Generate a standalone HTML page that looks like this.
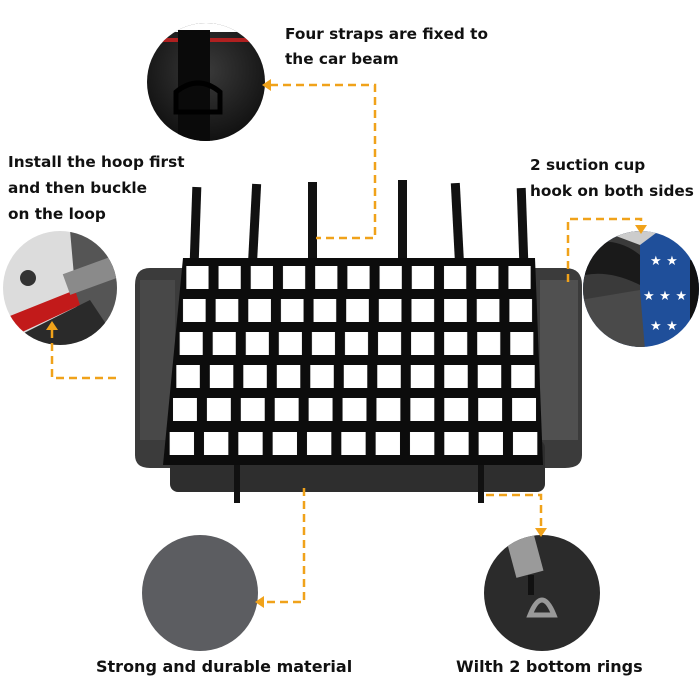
<!DOCTYPE html>
<html><head><meta charset="utf-8"><style>
html,body{margin:0;padding:0;background:#fff;}
svg{display:block}
text{font-family:"DejaVu Sans","Liberation Sans",sans-serif;font-weight:bold;font-size:15.3px;fill:#111}
</style></head><body>
<svg width="700" height="700" viewBox="0 0 700 700" xmlns="http://www.w3.org/2000/svg">
<defs>
<radialGradient id="g1" cx="50%" cy="40%" r="60%"><stop offset="0" stop-color="#3a3a3a"/><stop offset="1" stop-color="#111"/></radialGradient>
<pattern id="p0" x="181.33" y="0" width="32.21" height="700" patternUnits="userSpaceOnUse"><rect x="5" y="0" width="22.21" height="700" fill="#fff"/></pattern>
<pattern id="p1" x="178" y="0" width="32.64" height="700" patternUnits="userSpaceOnUse"><rect x="5" y="0" width="22.64" height="700" fill="#fff"/></pattern>
<pattern id="p2" x="174.67" y="0" width="33.06" height="700" patternUnits="userSpaceOnUse"><rect x="5" y="0" width="23.06" height="700" fill="#fff"/></pattern>
<pattern id="p3" x="171.33" y="0" width="33.49" height="700" patternUnits="userSpaceOnUse"><rect x="5" y="0" width="23.49" height="700" fill="#fff"/></pattern>
<pattern id="p4" x="168" y="0" width="33.91" height="700" patternUnits="userSpaceOnUse"><rect x="5" y="0" width="23.91" height="700" fill="#fff"/></pattern>
<pattern id="p5" x="164.67" y="0" width="34.33" height="700" patternUnits="userSpaceOnUse"><rect x="5" y="0" width="24.33" height="700" fill="#fff"/></pattern>
<clipPath id="ct"><circle cx="206" cy="82" r="59"/></clipPath>
<clipPath id="cl"><circle cx="60" cy="288" r="57"/></clipPath>
<clipPath id="cr"><circle cx="641" cy="289" r="58"/></clipPath>
<clipPath id="cb"><circle cx="542" cy="593" r="58"/></clipPath>
</defs>
<!-- top circle -->
<circle cx="206" cy="82" r="59" fill="url(#g1)"/>
<g clip-path="url(#ct)">
<rect x="140" y="20" width="140" height="12" fill="#fff"/>
<rect x="150" y="38" width="100" height="4" fill="#b02020"/>
<rect x="178" y="30" width="32" height="120" fill="#0a0a0a"/>
<path d="M176 92 q22 -18 44 0 l0 20 l-44 0 z" fill="none" stroke="#000" stroke-width="5"/>
</g>
<!-- left circle -->
<circle cx="60" cy="288" r="57" fill="#dcdcdc"/>
<g clip-path="url(#cl)">
<path d="M70 230 L120 240 L120 345 L80 345Z" fill="#555"/>
<path d="M0 320 L75 290 L80 305 L5 340 Z" fill="#c21a1a"/>
<path d="M0 345 L90 300 L120 345Z" fill="#2a2a2a"/>
<circle cx="28" cy="278" r="8" fill="#333"/>
<rect x="65" y="265" width="50" height="22" fill="#8a8a8a" transform="rotate(-20 90 276)"/>
</g>
<!-- right circle -->
<circle cx="641" cy="289" r="58" fill="#1f4f9a"/>
<g clip-path="url(#cr)">
<path d="M580 230 L640 230 L640 300 L580 300Z" fill="#3a3a3a"/>
<path d="M580 300 L640 290 L645 350 L580 350Z" fill="#4a4a4a"/>
<path d="M585 245 q30 -10 55 10 l0 30 q-30 -15 -55 -10z" fill="#1a1a1a"/>
<path d="M600 230 L660 230 L640 245 Z" fill="#ccc"/>
<path d="M690 260 L700 260 L700 320 L690 320Z" fill="#111"/>
</g>
<g style="fill:#fff;font-size:13px">
<text x="650" y="265" style="fill:#fff;font-size:13px">★ ★</text>
<text x="643" y="300" style="fill:#fff;font-size:13px">★ ★ ★</text>
<text x="650" y="330" style="fill:#fff;font-size:13px">★ ★</text>
</g>
<!-- bottom circles -->
<circle cx="200" cy="593" r="58" fill="#5c5d61"/>
<circle cx="542" cy="593" r="58" fill="#2b2b2b"/>
<g clip-path="url(#cb)">
<rect x="510" y="530" width="28" height="45" fill="#9a9a9a" transform="rotate(-15 524 552)"/>
<rect x="528" y="575" width="6" height="20" fill="#111"/>
<path d="M530 615 q12 -30 24 0z" fill="none" stroke="#999" stroke-width="5"/>
</g>
<!-- backing -->
<path d="M150 268 L565 268 Q582 268 582 285 L582 455 Q582 468 565 468 L150 468 Q135 468 135 455 L135 285 Q135 268 150 268Z" fill="#3b3b3b"/>
<rect x="170" y="440" width="375" height="52" rx="8" fill="#2e2e2e"/>
<rect x="140" y="280" width="35" height="160" fill="#555" opacity=".5"/>
<rect x="540" y="280" width="38" height="160" fill="#666" opacity=".5"/>
<!-- straps -->
<g fill="#111">
<rect x="191" y="187" width="9" height="75" transform="rotate(2 195 225)"/>
<rect x="250" y="184" width="9" height="78" transform="rotate(3 255 225)"/>
<rect x="308" y="182" width="9" height="80"/>
<rect x="398" y="180" width="9" height="82"/>
<rect x="453" y="183" width="9" height="79" transform="rotate(-3 458 225)"/>
<rect x="518" y="188" width="9" height="74" transform="rotate(-2 523 225)"/>
<rect x="234" y="465" width="6" height="38"/><rect x="478" y="465" width="6" height="38"/>
</g>
<!-- net -->
<path d="M183 258 L535 258 L543 465 L163 465 Z" fill="#0c0c0c"/>
<rect x="181.33" y="266" width="354.34" height="23" fill="url(#p0)"/>
<rect x="178" y="299" width="359" height="23" fill="url(#p1)"/>
<rect x="174.67" y="332" width="363.66" height="23" fill="url(#p2)"/>
<rect x="171.33" y="365" width="368.34" height="23" fill="url(#p3)"/>
<rect x="168" y="398" width="373" height="23" fill="url(#p4)"/>
<rect x="164.67" y="432" width="377.66" height="23" fill="url(#p5)"/>
<!-- dashed connectors -->
<g stroke="#f0a21a" stroke-width="2.5" stroke-dasharray="8 5" fill="none">
<path d="M270 85 L375 85 L375 238 L316 238"/>
<path d="M52 330 L52 378 L120 378"/>
<path d="M568 282 L568 219 L641 219 L641 226"/>
<path d="M304 488 L304 602 L263 602"/>
<path d="M486 495 L541 495 L541 528"/>
</g>
<g fill="#f0a21a">
<path d="M262 85 l9 -6 l0 12z"/>
<path d="M52 321 l-6 9 l12 0z"/>
<path d="M641 234 l-6 -9 l12 0z"/>
<path d="M255 602 l9 -6 l0 12z"/>
<path d="M541 537 l-6 -9 l12 0z"/>
</g>
<text x="285" y="39">Four straps are fixed to</text>
<text x="285" y="64">the car beam</text>
<text x="8" y="167">Install the hoop first</text>
<text x="8" y="193">and then buckle</text>
<text x="8" y="219">on the loop</text>
<text x="530" y="170">2 suction cup</text>
<text x="530" y="196">hook on both sides</text>
<text x="96" y="672" style="font-size:16px">Strong and durable material</text>
<text x="456" y="672" style="font-size:16px">Wilth 2 bottom rings</text>
</svg>
</body></html>
